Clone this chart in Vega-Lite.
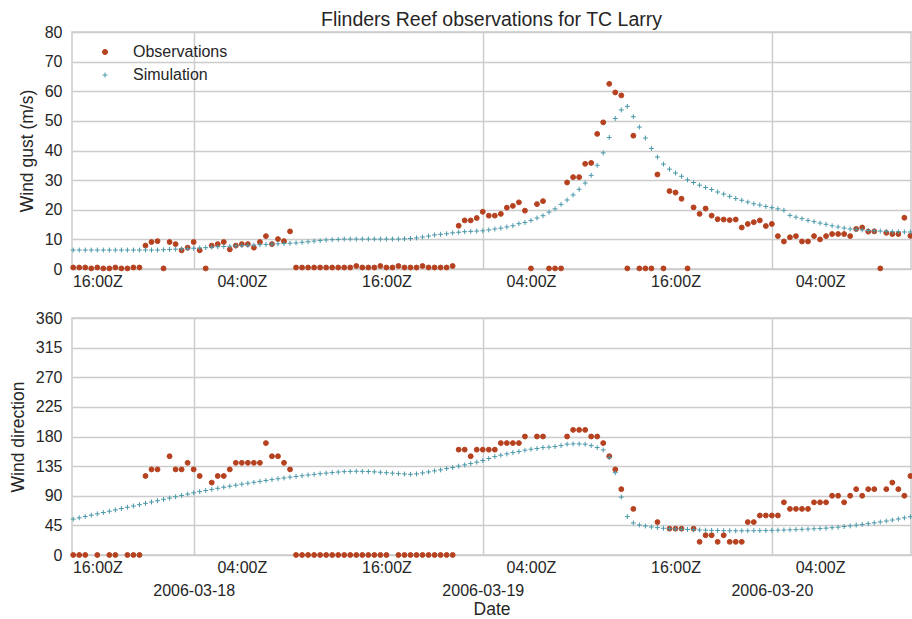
{
  "$schema": "https://vega.github.io/schema/vega-lite/v6.json",
  "background": "white",
  "padding": {"left": 8, "top": 9, "right": 0, "bottom": 0},
  "title": {"text": "Flinders Reef observations for TC Larry", "fontSize": 19.5, "fontWeight": "normal", "color": "#262626", "font": "Liberation Sans", "anchor": "middle", "frame": "group", "offset": -7},
  "config": {
    "font": "Liberation Sans",
    "view": {"stroke": "#cccccc", "strokeWidth": 1.5},
    "axis": {"labelFontSize": 16, "labelColor": "#262626", "labelFont": "Liberation Sans", "titleFont": "Liberation Sans", "titleFontSize": 17.5, "titleFontWeight": "normal", "titleColor": "#262626", "ticks": false, "domain": false, "gridColor": "#cccccc", "gridWidth": 1.5, "labelOverlap": false},
    "legend": {"labelFontSize": 16, "labelColor": "#262626", "labelFont": "Liberation Sans", "symbolStrokeWidth": 1, "symbolSize": 25}
  },
  "bounds": "flush",
  "spacing": 49,
  "resolve": {"scale": {"color": "independent", "stroke": "independent", "shape": "independent"}},
  "datasets": {
    "gust": [
      {"t":"2006-03-17T14:00Z","Observations":0.5,"Simulation":6.4},
      {"t":"2006-03-17T14:30Z","Observations":0.5,"Simulation":6.4},
      {"t":"2006-03-17T15:00Z","Observations":0.5,"Simulation":6.4},
      {"t":"2006-03-17T15:30Z","Observations":0.2,"Simulation":6.4},
      {"t":"2006-03-17T16:00Z","Observations":0.5,"Simulation":6.4},
      {"t":"2006-03-17T16:30Z","Observations":0.2,"Simulation":6.4},
      {"t":"2006-03-17T17:00Z","Observations":0.2,"Simulation":6.4},
      {"t":"2006-03-17T17:30Z","Observations":0.5,"Simulation":6.4},
      {"t":"2006-03-17T18:00Z","Observations":0.2,"Simulation":6.4},
      {"t":"2006-03-17T18:30Z","Observations":0.2,"Simulation":6.4},
      {"t":"2006-03-17T19:00Z","Observations":0.5,"Simulation":6.4},
      {"t":"2006-03-17T19:30Z","Observations":0.5,"Simulation":6.4},
      {"t":"2006-03-17T20:00Z","Observations":7.9,"Simulation":6.4},
      {"t":"2006-03-17T20:30Z","Observations":9.1,"Simulation":6.4},
      {"t":"2006-03-17T21:00Z","Observations":9.4,"Simulation":6.4},
      {"t":"2006-03-17T21:30Z","Observations":0.2,"Simulation":6.5},
      {"t":"2006-03-17T22:00Z","Observations":9.1,"Simulation":6.6},
      {"t":"2006-03-17T22:30Z","Observations":8.4,"Simulation":6.7},
      {"t":"2006-03-17T23:00Z","Observations":6.3,"Simulation":6.8},
      {"t":"2006-03-17T23:30Z","Observations":7.2,"Simulation":6.9},
      {"t":"2006-03-18T00:00Z","Observations":9.1,"Simulation":7.0},
      {"t":"2006-03-18T00:30Z","Observations":6.3,"Simulation":7.1},
      {"t":"2006-03-18T01:00Z","Observations":0.2,"Simulation":7.2},
      {"t":"2006-03-18T01:30Z","Observations":7.9,"Simulation":7.4},
      {"t":"2006-03-18T02:00Z","Observations":8.4,"Simulation":7.5},
      {"t":"2006-03-18T02:30Z","Observations":9.1,"Simulation":7.6},
      {"t":"2006-03-18T03:00Z","Observations":6.6,"Simulation":7.7},
      {"t":"2006-03-18T03:30Z","Observations":7.9,"Simulation":7.8},
      {"t":"2006-03-18T04:00Z","Observations":8.4,"Simulation":7.9},
      {"t":"2006-03-18T04:30Z","Observations":8.4,"Simulation":8.0},
      {"t":"2006-03-18T05:00Z","Observations":7.2,"Simulation":8.1},
      {"t":"2006-03-18T05:30Z","Observations":9.1,"Simulation":8.2},
      {"t":"2006-03-18T06:00Z","Observations":11.1,"Simulation":8.3},
      {"t":"2006-03-18T06:30Z","Observations":8.4,"Simulation":8.4},
      {"t":"2006-03-18T07:00Z","Observations":10.1,"Simulation":8.5},
      {"t":"2006-03-18T07:30Z","Observations":9.4,"Simulation":8.6},
      {"t":"2006-03-18T08:00Z","Observations":12.7,"Simulation":8.7},
      {"t":"2006-03-18T08:30Z","Observations":0.5,"Simulation":8.8},
      {"t":"2006-03-18T09:00Z","Observations":0.5,"Simulation":9.0},
      {"t":"2006-03-18T09:30Z","Observations":0.5,"Simulation":9.2},
      {"t":"2006-03-18T10:00Z","Observations":0.5,"Simulation":9.4},
      {"t":"2006-03-18T10:30Z","Observations":0.5,"Simulation":9.6},
      {"t":"2006-03-18T11:00Z","Observations":0.5,"Simulation":9.8},
      {"t":"2006-03-18T11:30Z","Observations":0.5,"Simulation":9.9},
      {"t":"2006-03-18T12:00Z","Observations":0.5,"Simulation":10.0},
      {"t":"2006-03-18T12:30Z","Observations":0.5,"Simulation":10.1},
      {"t":"2006-03-18T13:00Z","Observations":0.5,"Simulation":10.1},
      {"t":"2006-03-18T13:30Z","Observations":1.0,"Simulation":10.1},
      {"t":"2006-03-18T14:00Z","Observations":0.5,"Simulation":10.1},
      {"t":"2006-03-18T14:30Z","Observations":0.5,"Simulation":10.1},
      {"t":"2006-03-18T15:00Z","Observations":0.5,"Simulation":10.1},
      {"t":"2006-03-18T15:30Z","Observations":1.0,"Simulation":10.1},
      {"t":"2006-03-18T16:00Z","Observations":0.5,"Simulation":10.1},
      {"t":"2006-03-18T16:30Z","Observations":0.5,"Simulation":10.1},
      {"t":"2006-03-18T17:00Z","Observations":1.0,"Simulation":10.1},
      {"t":"2006-03-18T17:30Z","Observations":0.5,"Simulation":10.2},
      {"t":"2006-03-18T18:00Z","Observations":0.5,"Simulation":10.3},
      {"t":"2006-03-18T18:30Z","Observations":0.5,"Simulation":10.5},
      {"t":"2006-03-18T19:00Z","Observations":1.0,"Simulation":10.8},
      {"t":"2006-03-18T19:30Z","Observations":0.5,"Simulation":11.1},
      {"t":"2006-03-18T20:00Z","Observations":0.5,"Simulation":11.5},
      {"t":"2006-03-18T20:30Z","Observations":0.5,"Simulation":11.7},
      {"t":"2006-03-18T21:00Z","Observations":0.5,"Simulation":11.9},
      {"t":"2006-03-18T21:30Z","Observations":1.0,"Simulation":12.2},
      {"t":"2006-03-18T22:00Z","Observations":14.6,"Simulation":12.4},
      {"t":"2006-03-18T22:30Z","Observations":16.4,"Simulation":12.6},
      {"t":"2006-03-18T23:00Z","Observations":16.4,"Simulation":12.7},
      {"t":"2006-03-18T23:30Z","Observations":17.2,"Simulation":12.8},
      {"t":"2006-03-19T00:00Z","Observations":19.3,"Simulation":12.9},
      {"t":"2006-03-19T00:30Z","Observations":18.0,"Simulation":13.2},
      {"t":"2006-03-19T01:00Z","Observations":18.0,"Simulation":13.5},
      {"t":"2006-03-19T01:30Z","Observations":18.6,"Simulation":13.8},
      {"t":"2006-03-19T02:00Z","Observations":20.7,"Simulation":14.2},
      {"t":"2006-03-19T02:30Z","Observations":21.3,"Simulation":14.6},
      {"t":"2006-03-19T03:00Z","Observations":22.5,"Simulation":15.3},
      {"t":"2006-03-19T03:30Z","Observations":19.7,"Simulation":15.7},
      {"t":"2006-03-19T04:00Z","Observations":0.2,"Simulation":16.4},
      {"t":"2006-03-19T04:30Z","Observations":21.9,"Simulation":17.2},
      {"t":"2006-03-19T05:00Z","Observations":22.9,"Simulation":18.0},
      {"t":"2006-03-19T05:30Z","Observations":0.2,"Simulation":19.2},
      {"t":"2006-03-19T06:00Z","Observations":0.2,"Simulation":20.3},
      {"t":"2006-03-19T06:30Z","Observations":0.2,"Simulation":21.8},
      {"t":"2006-03-19T07:00Z","Observations":29.2,"Simulation":23.3},
      {"t":"2006-03-19T07:30Z","Observations":31.0,"Simulation":25.0},
      {"t":"2006-03-19T08:00Z","Observations":31.0,"Simulation":26.9},
      {"t":"2006-03-19T08:30Z","Observations":35.5,"Simulation":29.0},
      {"t":"2006-03-19T09:00Z","Observations":35.8,"Simulation":31.6},
      {"t":"2006-03-19T09:30Z","Observations":45.6,"Simulation":35.0},
      {"t":"2006-03-19T10:00Z","Observations":49.5,"Simulation":39.2},
      {"t":"2006-03-19T10:30Z","Observations":62.5,"Simulation":44.4},
      {"t":"2006-03-19T11:00Z","Observations":59.6,"Simulation":50.8},
      {"t":"2006-03-19T11:30Z","Observations":58.6,"Simulation":53.7},
      {"t":"2006-03-19T12:00Z","Observations":0.2,"Simulation":54.9},
      {"t":"2006-03-19T12:30Z","Observations":45.0,"Simulation":51.4},
      {"t":"2006-03-19T13:00Z","Observations":0.2,"Simulation":47.9},
      {"t":"2006-03-19T13:30Z","Observations":0.2,"Simulation":44.2},
      {"t":"2006-03-19T14:00Z","Observations":0.2,"Simulation":40.7},
      {"t":"2006-03-19T14:30Z","Observations":31.9,"Simulation":37.8},
      {"t":"2006-03-19T15:00Z","Observations":0.2,"Simulation":35.4},
      {"t":"2006-03-19T15:30Z","Observations":26.3,"Simulation":33.7},
      {"t":"2006-03-19T16:00Z","Observations":25.8,"Simulation":32.4},
      {"t":"2006-03-19T16:30Z","Observations":23.7,"Simulation":31.3},
      {"t":"2006-03-19T17:00Z","Observations":0.2,"Simulation":30.1},
      {"t":"2006-03-19T17:30Z","Observations":20.8,"Simulation":29.2},
      {"t":"2006-03-19T18:00Z","Observations":18.6,"Simulation":28.3},
      {"t":"2006-03-19T18:30Z","Observations":20.4,"Simulation":27.5},
      {"t":"2006-03-19T19:00Z","Observations":18.0,"Simulation":26.8},
      {"t":"2006-03-19T19:30Z","Observations":16.8,"Simulation":26.0},
      {"t":"2006-03-19T20:00Z","Observations":16.7,"Simulation":25.3},
      {"t":"2006-03-19T20:30Z","Observations":16.5,"Simulation":24.5},
      {"t":"2006-03-19T21:00Z","Observations":16.7,"Simulation":23.8},
      {"t":"2006-03-19T21:30Z","Observations":14.0,"Simulation":23.2},
      {"t":"2006-03-19T22:00Z","Observations":15.2,"Simulation":22.6},
      {"t":"2006-03-19T22:30Z","Observations":15.8,"Simulation":22.0},
      {"t":"2006-03-19T23:00Z","Observations":16.4,"Simulation":21.6},
      {"t":"2006-03-19T23:30Z","Observations":14.5,"Simulation":21.1},
      {"t":"2006-03-20T00:00Z","Observations":15.2,"Simulation":20.7},
      {"t":"2006-03-20T00:30Z","Observations":11.1,"Simulation":20.3},
      {"t":"2006-03-20T01:00Z","Observations":9.3,"Simulation":19.8},
      {"t":"2006-03-20T01:30Z","Observations":10.7,"Simulation":18.1},
      {"t":"2006-03-20T02:00Z","Observations":11.1,"Simulation":17.5},
      {"t":"2006-03-20T02:30Z","Observations":9.3,"Simulation":17.0},
      {"t":"2006-03-20T03:00Z","Observations":9.3,"Simulation":16.4},
      {"t":"2006-03-20T03:30Z","Observations":11.1,"Simulation":16.0},
      {"t":"2006-03-20T04:00Z","Observations":10.0,"Simulation":15.5},
      {"t":"2006-03-20T04:30Z","Observations":11.1,"Simulation":15.1},
      {"t":"2006-03-20T05:00Z","Observations":11.8,"Simulation":14.6},
      {"t":"2006-03-20T05:30Z","Observations":11.8,"Simulation":14.2},
      {"t":"2006-03-20T06:00Z","Observations":11.8,"Simulation":13.8},
      {"t":"2006-03-20T06:30Z","Observations":11.1,"Simulation":13.5},
      {"t":"2006-03-20T07:00Z","Observations":13.5,"Simulation":13.3},
      {"t":"2006-03-20T07:30Z","Observations":14.0,"Simulation":13.2},
      {"t":"2006-03-20T08:00Z","Observations":12.6,"Simulation":13.0},
      {"t":"2006-03-20T08:30Z","Observations":12.7,"Simulation":12.9},
      {"t":"2006-03-20T09:00Z","Observations":0.2,"Simulation":12.8},
      {"t":"2006-03-20T09:30Z","Observations":12.2,"Simulation":12.7},
      {"t":"2006-03-20T10:00Z","Observations":11.8,"Simulation":12.6},
      {"t":"2006-03-20T10:30Z","Observations":11.8,"Simulation":12.6},
      {"t":"2006-03-20T11:00Z","Observations":17.3,"Simulation":12.5},
      {"t":"2006-03-20T11:30Z","Observations":11.2,"Simulation":12.5}
    ],
    "dir": [
      {"t":"2006-03-17T14:00Z","Observations":0,"Simulation":54.5},
      {"t":"2006-03-17T14:30Z","Observations":0,"Simulation":56.5},
      {"t":"2006-03-17T15:00Z","Observations":0,"Simulation":58.5},
      {"t":"2006-03-17T15:30Z","Observations":null,"Simulation":60.5},
      {"t":"2006-03-17T16:00Z","Observations":0,"Simulation":62.5},
      {"t":"2006-03-17T16:30Z","Observations":null,"Simulation":64.5},
      {"t":"2006-03-17T17:00Z","Observations":0,"Simulation":66.5},
      {"t":"2006-03-17T17:30Z","Observations":0,"Simulation":68.5},
      {"t":"2006-03-17T18:00Z","Observations":null,"Simulation":70.5},
      {"t":"2006-03-17T18:30Z","Observations":0,"Simulation":72.5},
      {"t":"2006-03-17T19:00Z","Observations":0,"Simulation":74.5},
      {"t":"2006-03-17T19:30Z","Observations":0,"Simulation":76.5},
      {"t":"2006-03-17T20:00Z","Observations":120,"Simulation":78.5},
      {"t":"2006-03-17T20:30Z","Observations":130,"Simulation":80.5},
      {"t":"2006-03-17T21:00Z","Observations":130,"Simulation":82.5},
      {"t":"2006-03-17T21:30Z","Observations":null,"Simulation":84.5},
      {"t":"2006-03-17T22:00Z","Observations":150,"Simulation":86.5},
      {"t":"2006-03-17T22:30Z","Observations":130,"Simulation":88.5},
      {"t":"2006-03-17T23:00Z","Observations":130,"Simulation":90.5},
      {"t":"2006-03-17T23:30Z","Observations":140,"Simulation":92.5},
      {"t":"2006-03-18T00:00Z","Observations":130,"Simulation":94.5},
      {"t":"2006-03-18T00:30Z","Observations":120,"Simulation":96.3},
      {"t":"2006-03-18T01:00Z","Observations":null,"Simulation":98.0},
      {"t":"2006-03-18T01:30Z","Observations":110,"Simulation":99.7},
      {"t":"2006-03-18T02:00Z","Observations":120,"Simulation":101.3},
      {"t":"2006-03-18T02:30Z","Observations":120,"Simulation":102.9},
      {"t":"2006-03-18T03:00Z","Observations":130,"Simulation":104.5},
      {"t":"2006-03-18T03:30Z","Observations":140,"Simulation":106.0},
      {"t":"2006-03-18T04:00Z","Observations":140,"Simulation":107.5},
      {"t":"2006-03-18T04:30Z","Observations":140,"Simulation":109.0},
      {"t":"2006-03-18T05:00Z","Observations":140,"Simulation":110.4},
      {"t":"2006-03-18T05:30Z","Observations":140,"Simulation":111.8},
      {"t":"2006-03-18T06:00Z","Observations":170,"Simulation":113.2},
      {"t":"2006-03-18T06:30Z","Observations":150,"Simulation":114.5},
      {"t":"2006-03-18T07:00Z","Observations":150,"Simulation":115.8},
      {"t":"2006-03-18T07:30Z","Observations":140,"Simulation":117.0},
      {"t":"2006-03-18T08:00Z","Observations":130,"Simulation":118.2},
      {"t":"2006-03-18T08:30Z","Observations":0,"Simulation":119.3},
      {"t":"2006-03-18T09:00Z","Observations":0,"Simulation":120.4},
      {"t":"2006-03-18T09:30Z","Observations":0,"Simulation":121.5},
      {"t":"2006-03-18T10:00Z","Observations":0,"Simulation":122.5},
      {"t":"2006-03-18T10:30Z","Observations":0,"Simulation":123.5},
      {"t":"2006-03-18T11:00Z","Observations":0,"Simulation":124.4},
      {"t":"2006-03-18T11:30Z","Observations":0,"Simulation":125.2},
      {"t":"2006-03-18T12:00Z","Observations":0,"Simulation":126.0},
      {"t":"2006-03-18T12:30Z","Observations":0,"Simulation":126.6},
      {"t":"2006-03-18T13:00Z","Observations":0,"Simulation":127.0},
      {"t":"2006-03-18T13:30Z","Observations":0,"Simulation":127.2},
      {"t":"2006-03-18T14:00Z","Observations":0,"Simulation":127.1},
      {"t":"2006-03-18T14:30Z","Observations":0,"Simulation":126.8},
      {"t":"2006-03-18T15:00Z","Observations":0,"Simulation":126.3},
      {"t":"2006-03-18T15:30Z","Observations":0,"Simulation":125.7},
      {"t":"2006-03-18T16:00Z","Observations":0,"Simulation":125.0},
      {"t":"2006-03-18T16:30Z","Observations":null,"Simulation":124.3},
      {"t":"2006-03-18T17:00Z","Observations":0,"Simulation":123.6},
      {"t":"2006-03-18T17:30Z","Observations":0,"Simulation":123.0},
      {"t":"2006-03-18T18:00Z","Observations":0,"Simulation":122.6},
      {"t":"2006-03-18T18:30Z","Observations":0,"Simulation":123.2},
      {"t":"2006-03-18T19:00Z","Observations":0,"Simulation":124.7},
      {"t":"2006-03-18T19:30Z","Observations":0,"Simulation":126.2},
      {"t":"2006-03-18T20:00Z","Observations":0,"Simulation":127.8},
      {"t":"2006-03-18T20:30Z","Observations":0,"Simulation":129.3},
      {"t":"2006-03-18T21:00Z","Observations":0,"Simulation":131.3},
      {"t":"2006-03-18T21:30Z","Observations":0,"Simulation":132.8},
      {"t":"2006-03-18T22:00Z","Observations":160,"Simulation":134.9},
      {"t":"2006-03-18T22:30Z","Observations":160,"Simulation":136.9},
      {"t":"2006-03-18T23:00Z","Observations":150,"Simulation":138.9},
      {"t":"2006-03-18T23:30Z","Observations":160,"Simulation":141.0},
      {"t":"2006-03-19T00:00Z","Observations":160,"Simulation":143.5},
      {"t":"2006-03-19T00:30Z","Observations":160,"Simulation":146.5},
      {"t":"2006-03-19T01:00Z","Observations":160,"Simulation":149.5},
      {"t":"2006-03-19T01:30Z","Observations":170,"Simulation":151.6},
      {"t":"2006-03-19T02:00Z","Observations":170,"Simulation":153.6},
      {"t":"2006-03-19T02:30Z","Observations":170,"Simulation":155.6},
      {"t":"2006-03-19T03:00Z","Observations":170,"Simulation":157.1},
      {"t":"2006-03-19T03:30Z","Observations":180,"Simulation":159.2},
      {"t":"2006-03-19T04:00Z","Observations":null,"Simulation":160.7},
      {"t":"2006-03-19T04:30Z","Observations":180,"Simulation":161.7},
      {"t":"2006-03-19T05:00Z","Observations":180,"Simulation":163.2},
      {"t":"2006-03-19T05:30Z","Observations":null,"Simulation":163.8},
      {"t":"2006-03-19T06:00Z","Observations":null,"Simulation":164.7},
      {"t":"2006-03-19T06:30Z","Observations":null,"Simulation":166.2},
      {"t":"2006-03-19T07:00Z","Observations":180,"Simulation":168.3},
      {"t":"2006-03-19T07:30Z","Observations":190,"Simulation":168.8},
      {"t":"2006-03-19T08:00Z","Observations":190,"Simulation":168.8},
      {"t":"2006-03-19T08:30Z","Observations":190,"Simulation":168.3},
      {"t":"2006-03-19T09:00Z","Observations":180,"Simulation":166.2},
      {"t":"2006-03-19T09:30Z","Observations":180,"Simulation":163.2},
      {"t":"2006-03-19T10:00Z","Observations":170,"Simulation":159.5},
      {"t":"2006-03-19T10:30Z","Observations":150,"Simulation":148},
      {"t":"2006-03-19T11:00Z","Observations":130,"Simulation":125},
      {"t":"2006-03-19T11:30Z","Observations":100,"Simulation":88},
      {"t":"2006-03-19T12:00Z","Observations":null,"Simulation":58.3},
      {"t":"2006-03-19T12:30Z","Observations":70,"Simulation":48.7},
      {"t":"2006-03-19T13:00Z","Observations":null,"Simulation":45.6},
      {"t":"2006-03-19T13:30Z","Observations":null,"Simulation":44.1},
      {"t":"2006-03-19T14:00Z","Observations":null,"Simulation":42.6},
      {"t":"2006-03-19T14:30Z","Observations":50,"Simulation":41.6},
      {"t":"2006-03-19T15:00Z","Observations":null,"Simulation":40.6},
      {"t":"2006-03-19T15:30Z","Observations":40,"Simulation":40.0},
      {"t":"2006-03-19T16:00Z","Observations":40,"Simulation":39.6},
      {"t":"2006-03-19T16:30Z","Observations":40,"Simulation":39.2},
      {"t":"2006-03-19T17:00Z","Observations":null,"Simulation":38.8},
      {"t":"2006-03-19T17:30Z","Observations":40,"Simulation":38.4},
      {"t":"2006-03-19T18:00Z","Observations":20,"Simulation":38.0},
      {"t":"2006-03-19T18:30Z","Observations":30,"Simulation":37.7},
      {"t":"2006-03-19T19:00Z","Observations":30,"Simulation":37.4},
      {"t":"2006-03-19T19:30Z","Observations":20,"Simulation":37.2},
      {"t":"2006-03-19T20:00Z","Observations":30,"Simulation":37.0},
      {"t":"2006-03-19T20:30Z","Observations":20,"Simulation":36.9},
      {"t":"2006-03-19T21:00Z","Observations":20,"Simulation":36.8},
      {"t":"2006-03-19T21:30Z","Observations":20,"Simulation":36.8},
      {"t":"2006-03-19T22:00Z","Observations":50,"Simulation":36.8},
      {"t":"2006-03-19T22:30Z","Observations":50,"Simulation":36.9},
      {"t":"2006-03-19T23:00Z","Observations":60,"Simulation":37.0},
      {"t":"2006-03-19T23:30Z","Observations":60,"Simulation":37.2},
      {"t":"2006-03-20T00:00Z","Observations":60,"Simulation":37.4},
      {"t":"2006-03-20T00:30Z","Observations":60,"Simulation":37.7},
      {"t":"2006-03-20T01:00Z","Observations":80,"Simulation":38.0},
      {"t":"2006-03-20T01:30Z","Observations":70,"Simulation":38.3},
      {"t":"2006-03-20T02:00Z","Observations":70,"Simulation":38.6},
      {"t":"2006-03-20T02:30Z","Observations":70,"Simulation":39.0},
      {"t":"2006-03-20T03:00Z","Observations":70,"Simulation":39.4},
      {"t":"2006-03-20T03:30Z","Observations":80,"Simulation":39.8},
      {"t":"2006-03-20T04:00Z","Observations":80,"Simulation":40.2},
      {"t":"2006-03-20T04:30Z","Observations":80,"Simulation":40.8},
      {"t":"2006-03-20T05:00Z","Observations":90,"Simulation":41.5},
      {"t":"2006-03-20T05:30Z","Observations":90,"Simulation":42.3},
      {"t":"2006-03-20T06:00Z","Observations":80,"Simulation":43.2},
      {"t":"2006-03-20T06:30Z","Observations":90,"Simulation":44.2},
      {"t":"2006-03-20T07:00Z","Observations":100,"Simulation":45.3},
      {"t":"2006-03-20T07:30Z","Observations":90,"Simulation":46.4},
      {"t":"2006-03-20T08:00Z","Observations":100,"Simulation":47.6},
      {"t":"2006-03-20T08:30Z","Observations":100,"Simulation":48.9},
      {"t":"2006-03-20T09:00Z","Observations":null,"Simulation":50.2},
      {"t":"2006-03-20T09:30Z","Observations":100,"Simulation":51.6},
      {"t":"2006-03-20T10:00Z","Observations":110,"Simulation":53.1},
      {"t":"2006-03-20T10:30Z","Observations":100,"Simulation":54.7},
      {"t":"2006-03-20T11:00Z","Observations":90,"Simulation":56.4},
      {"t":"2006-03-20T11:30Z","Observations":120,"Simulation":58.2}
    ]
  },
  "vconcat": [
    {
      "width": 839,
      "height": 237,
      "data": {"name": "gust"},
      "resolve": {"axis": {"x": "independent"}},
      "layer": [
        {
          "mark": {"type": "point", "filled": true, "size": 24, "strokeWidth": 1, "opacity": 1},
          "encoding": {
            "x": {"field": "t", "type": "temporal",
                  "scale": {"type": "utc", "domain": [{"year": 2006, "month": 3, "date": 17, "hours": 13, "minutes": 54, "utc": true}, {"year": 2006, "month": 3, "date": 20, "hours": 11, "minutes": 33, "utc": true}]},
                  "axis": {"orient": "bottom", "values": [{"year": 2006, "month": 3, "date": 18, "utc": true}, {"year": 2006, "month": 3, "date": 19, "utc": true}, {"year": 2006, "month": 3, "date": 20, "utc": true}], "labels": false, "grid": true, "title": null}},
            "y": {"field": "Observations", "type": "quantitative", "scale": {"domain": [0, 80], "nice": false},
                  "axis": {"values": [0, 10, 20, 30, 40, 50, 60, 70, 80], "title": "Wind gust (m/s)", "grid": true, "labelPadding": 10, "titlePadding": 8}},
            "color": {"datum": "Observations", "type": "nominal", "scale": {"domain": ["Observations", "Simulation"], "range": ["#b5411f", "#4a98a8"]},
                      "legend": {"orient": "none", "legendX": 25, "legendY": 12, "title": null, "labelOffset": 20, "rowPadding": 7, "padding": 0}},
            "stroke": {"datum": "Observations", "type": "nominal", "scale": {"domain": ["Observations", "Simulation"], "range": ["#b5411f", "#4a98a8"]}},
            "shape": {"datum": "Observations", "type": "nominal", "scale": {"domain": ["Observations", "Simulation"], "range": ["circle", "M-1,0L1,0M0,-1L0,1"]}}
          }
        },
        {
          "mark": {"type": "point", "filled": true, "size": 24, "strokeWidth": 1, "opacity": 1},
          "encoding": {
            "x": {"field": "t", "type": "temporal",
                  "axis": {"orient": "bottom", "values": [{"year": 2006, "month": 3, "date": 17, "hours": 16, "utc": true}, {"year": 2006, "month": 3, "date": 18, "hours": 4, "utc": true}, {"year": 2006, "month": 3, "date": 18, "hours": 16, "utc": true}, {"year": 2006, "month": 3, "date": 19, "hours": 4, "utc": true}, {"year": 2006, "month": 3, "date": 19, "hours": 16, "utc": true}, {"year": 2006, "month": 3, "date": 20, "hours": 4, "utc": true}], "labelExpr": "utcFormat(datum.value, '%H:%MZ')", "grid": false, "title": null, "labelPadding": 4}},
            "y": {"field": "Simulation", "type": "quantitative", "axis": {"values": [0, 10, 20, 30, 40, 50, 60, 70, 80], "title": "Wind gust (m/s)", "grid": true, "labelPadding": 10, "titlePadding": 8}},
            "color": {"datum": "Simulation", "type": "nominal"},
            "stroke": {"datum": "Simulation", "type": "nominal"},
            "shape": {"datum": "Simulation", "type": "nominal"}
          }
        }
      ]
    },
    {
      "width": 839,
      "height": 237,
      "data": {"name": "dir"},
      "resolve": {"axis": {"x": "independent"}},
      "layer": [
        {
          "mark": {"type": "point", "filled": true, "size": 24, "strokeWidth": 1, "opacity": 1},
          "encoding": {
            "x": {"field": "t", "type": "temporal",
                  "scale": {"type": "utc", "domain": [{"year": 2006, "month": 3, "date": 17, "hours": 13, "minutes": 54, "utc": true}, {"year": 2006, "month": 3, "date": 20, "hours": 11, "minutes": 33, "utc": true}]},
                  "axis": {"orient": "bottom", "values": [{"year": 2006, "month": 3, "date": 18, "utc": true}, {"year": 2006, "month": 3, "date": 19, "utc": true}, {"year": 2006, "month": 3, "date": 20, "utc": true}], "labelExpr": "utcFormat(datum.value, '%Y-%m-%d')", "grid": true, "labelPadding": 27, "title": "Date", "titlePadding": 2}},
            "y": {"field": "Observations", "type": "quantitative", "scale": {"domain": [0, 360], "nice": false},
                  "axis": {"values": [0, 45, 90, 135, 180, 225, 270, 315, 360], "title": "Wind direction", "grid": true, "labelPadding": 10, "titlePadding": 8}},
            "color": {"datum": "Observations", "type": "nominal", "scale": {"domain": ["Observations", "Simulation"], "range": ["#b5411f", "#4a98a8"]}, "legend": null},
            "stroke": {"datum": "Observations", "type": "nominal", "scale": {"domain": ["Observations", "Simulation"], "range": ["#b5411f", "#4a98a8"]}, "legend": null},
            "shape": {"datum": "Observations", "type": "nominal", "scale": {"domain": ["Observations", "Simulation"], "range": ["circle", "M-1,0L1,0M0,-1L0,1"]}, "legend": null}
          }
        },
        {
          "mark": {"type": "point", "filled": true, "size": 24, "strokeWidth": 1, "opacity": 1},
          "encoding": {
            "x": {"field": "t", "type": "temporal",
                  "axis": {"orient": "bottom", "values": [{"year": 2006, "month": 3, "date": 17, "hours": 16, "utc": true}, {"year": 2006, "month": 3, "date": 18, "hours": 4, "utc": true}, {"year": 2006, "month": 3, "date": 18, "hours": 16, "utc": true}, {"year": 2006, "month": 3, "date": 19, "hours": 4, "utc": true}, {"year": 2006, "month": 3, "date": 19, "hours": 16, "utc": true}, {"year": 2006, "month": 3, "date": 20, "hours": 4, "utc": true}], "labelExpr": "utcFormat(datum.value, '%H:%MZ')", "grid": false, "title": null, "labelPadding": 4}},
            "y": {"field": "Simulation", "type": "quantitative", "axis": {"values": [0, 45, 90, 135, 180, 225, 270, 315, 360], "title": "Wind direction", "grid": true, "labelPadding": 10, "titlePadding": 8}},
            "color": {"datum": "Simulation", "type": "nominal", "legend": null},
            "stroke": {"datum": "Simulation", "type": "nominal", "legend": null},
            "shape": {"datum": "Simulation", "type": "nominal", "legend": null}
          }
        }
      ]
    }
  ]
}
